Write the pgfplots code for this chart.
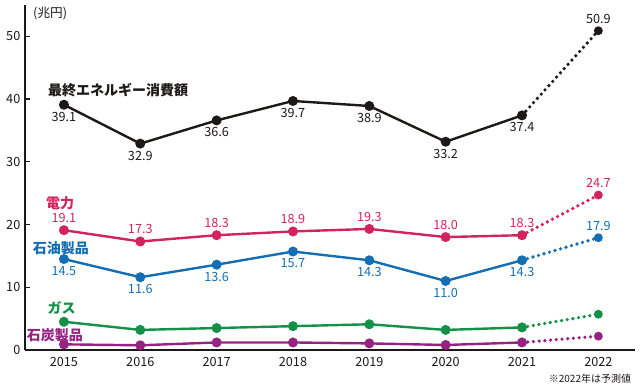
\documentclass[border=0pt]{standalone}
\usepackage{pgfplots}
\pgfplotsset{compat=1.18}
\usepackage{fontspec}
\setmainfont{Noto Sans CJK JP}
\definecolor{cK}{RGB}{30,25,25}
\definecolor{cR}{RGB}{210,35,95}
\definecolor{cB}{RGB}{20,110,180}
\definecolor{cG}{RGB}{20,145,70}
\definecolor{cP}{RGB}{150,35,130}
\newcommand{\numf}{\fontsize{9.5}{11}\selectfont}
\newcommand{\namef}{\fontsize{10.5}{12}\selectfont\bfseries}
\begin{document}
\begin{tikzpicture}
\begin{axis}[
  at={(0,0)}, anchor=south west,
  scale only axis, width=457.5pt, height=258.75pt,
  xmin=2014.49, xmax=2022.48, ymin=0, ymax=55,
  axis x line*=bottom, axis y line*=left,
  axis line style={line width=1.1pt, cK},
  ytick={0,10,20,30,40,50},
  xtick={2015,2016,2017,2018,2019,2020,2021,2022},
  xtick style={draw=none},
  ytick style={line width=1pt, cK},
  tick align=inside, major tick length=4pt,
  tick label style={font=\numf, text=cK},
  /pgf/number format/assume math mode=true,
  x tick label style={/pgf/number format/1000 sep={}, yshift=-2pt},
  clip=false,
  every axis plot/.append style={line width=1.8pt, mark=*, mark size=2.8pt},
  dotline/.style={line cap=round, dash pattern=on 0pt off 4.3pt, line width=2.7pt},
]
% final energy consumption
\addplot[cK] coordinates {(2015,39.1)(2016,32.9)(2017,36.6)(2018,39.7)(2019,38.9)(2020,33.2)(2021,37.4)};
\addplot[cK, dotline, mark options={solid, line width=1pt}] coordinates {(2021,37.4)(2022,50.9)};
% electricity
\addplot[cR] coordinates {(2015,19.1)(2016,17.3)(2017,18.3)(2018,18.9)(2019,19.3)(2020,18.0)(2021,18.3)};
\addplot[cR, dotline, mark options={solid, line width=1pt}] coordinates {(2021,18.3)(2022,24.7)};
% oil products
\addplot[cB] coordinates {(2015,14.5)(2016,11.6)(2017,13.6)(2018,15.7)(2019,14.3)(2020,11.0)(2021,14.3)};
\addplot[cB, dotline, mark options={solid, line width=1pt}] coordinates {(2021,14.3)(2022,17.9)};
% gas
\addplot[cG] coordinates {(2015,4.5)(2016,3.2)(2017,3.5)(2018,3.8)(2019,4.1)(2020,3.2)(2021,3.6)};
\addplot[cG, dotline, mark options={solid, line width=1pt}] coordinates {(2021,3.6)(2022,5.7)};
% coal products
\addplot[cP] coordinates {(2015,0.9)(2016,0.75)(2017,1.2)(2018,1.2)(2019,1.05)(2020,0.8)(2021,1.2)};
\addplot[cP, dotline, mark options={solid, line width=1pt}] coordinates {(2021,1.2)(2022,2.2)};

% value labels
\foreach \x/\y/\l/\s in {2015/39.1/39.1/-9,2016/32.9/32.9/-9,2017/36.6/36.6/-9,2018/39.7/39.7/-9,2019/38.9/38.9/-9,2020/33.2/33.2/-9,2021/37.4/37.4/-9,2022/50.9/50.9/9}
  {\edef\tmp{\noexpand\node[font=\noexpand\numf, text=cK, yshift=\s pt] at (axis cs:\x,\y) {\l};}\tmp}
\foreach \x/\y/\l/\s in {2015/19.1/19.1/9,2016/17.3/17.3/9,2017/18.3/18.3/9,2018/18.9/18.9/9,2019/19.3/19.3/9,2020/18.0/18.0/9,2021/18.3/18.3/9,2022/24.7/24.7/9}
  {\edef\tmp{\noexpand\node[font=\noexpand\numf, text=cR, yshift=\s pt] at (axis cs:\x,\y) {\l};}\tmp}
\foreach \x/\y/\l/\s in {2015/14.5/14.5/-9,2016/11.6/11.6/-9,2017/13.6/13.6/-9,2018/15.7/15.7/-9,2019/14.3/14.3/-9,2020/11.0/11.0/-9,2021/14.3/14.3/-9,2022/17.9/17.9/9}
  {\edef\tmp{\noexpand\node[font=\noexpand\numf, text=cB, yshift=\s pt] at (axis cs:\x,\y) {\l};}\tmp}

% series names
\node[font=\namef, text=cK] at (axis cs:2015.71,41.4) {最終エネルギー消費額};
\node[font=\namef, text=cR] at (axis cs:2014.95,23.4) {電力};
\node[font=\namef, text=cB] at (axis cs:2014.96,16.2) {石油製品};
\node[font=\namef, text=cG] at (axis cs:2014.97,6.7) {ガス};
\node[font=\namef, text=cP] at (axis cs:2014.88,2.4) {石炭製品};
\node[font=\numf, text=cK] at (axis cs:2014.82,53.7) {(兆円)};
\node[font=\fontsize{7.5}{9}\selectfont, text=cK, anchor=east] at (axis cs:2022.49,-4.5) {※2022年は予測値};
\end{axis}
\useasboundingbox (-18.75pt,-27pt) rectangle (461.25pt,262.5pt);
\end{tikzpicture}
\end{document}
